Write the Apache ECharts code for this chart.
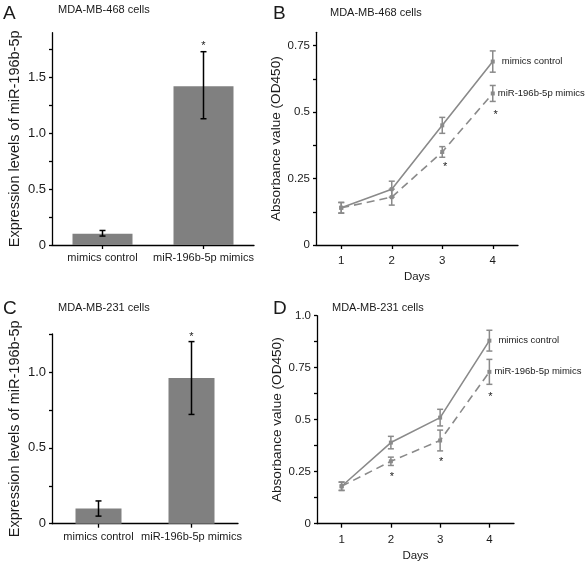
<!DOCTYPE html>
<html><head><meta charset="utf-8">
<script src="https://cdn.jsdelivr.net/npm/echarts@6/dist/echarts.min.js"></script>
<style>html,body{margin:0;padding:0;background:#fff}#c{width:586px;height:567px}</style>
</head><body><div id="c"></div>
<script>
// ---- data ----
const barCategories = ['mimics control', 'miR-196b-5p mimics'];
const barA = [0.10, 1.42];
const barALow = [0.08, 1.13];
const barAHigh = [0.13, 1.73];
const starA = [null, 1.81];
const barC = [0.10, 0.96];
const barCLow = [0.05, 0.72];
const barCHigh = [0.15, 1.20];
const starC = [null, 1.25];

const days = ['1', '2', '3', '4'];
const ctrlB = [0.14, 0.21, 0.45, 0.69];
const ctrlBLow = [0.12, 0.18, 0.42, 0.65];
const ctrlBHigh = [0.16, 0.24, 0.48, 0.73];
const mimB = [0.14, 0.18, 0.35, 0.57];
const mimBLow = [0.12, 0.15, 0.33, 0.54];
const mimBHigh = [0.16, 0.21, 0.37, 0.60];
const starB = [null, null, 0.305, 0.50];

const ctrlD = [0.18, 0.39, 0.51, 0.88];
const ctrlDLow = [0.16, 0.36, 0.47, 0.83];
const ctrlDHigh = [0.20, 0.42, 0.55, 0.93];
const mimD = [0.18, 0.30, 0.40, 0.73];
const mimDLow = [0.16, 0.28, 0.35, 0.67];
const mimDHigh = [0.20, 0.32, 0.45, 0.79];
const starD = [null, 0.2375, 0.311, 0.622];

const ticksA = [0, 0.25, 0.5, 0.75, 1, 1.25, 1.5, 1.75];
const labelsA = [0, 0.5, 1, 1.5];
const ticksB = [0, 0.125, 0.25, 0.375, 0.5, 0.625, 0.75];
const labelsB = [0, 0.25, 0.5, 0.75];
const ticksC = [0, 0.25, 0.5, 0.75, 1, 1.25];
const labelsC = [0, 0.5, 1];
const ticksD = [0, 0.125, 0.25, 0.375, 0.5, 0.625, 0.75, 0.875, 1];
const labelsD = [0, 0.25, 0.5, 0.75, 1];

const seriesNames = ['mimics control', 'miR-196b-5p mimics'];
const panelTitles = ['MDA-MB-468 cells', 'MDA-MB-468 cells', 'MDA-MB-231 cells', 'MDA-MB-231 cells'];
const panelLetters = ['A', 'B', 'C', 'D'];

// ---- helpers ----
const FONT = '"Liberation Sans", Arial, sans-serif';
const TXT = '#1a1a1a';
const GRAY = '#8a8a8a';
const BAR = '#808080';

function zip3(lo, hi) { return lo.map((v, i) => [i, v, hi[i]]); }
function starData(arr) { return arr.map((v, i) => v == null ? null : [i, v]).filter(Boolean); }

function errSeries(idx, lo, hi, color, cap) {
  return {
    type: 'custom', xAxisIndex: idx, yAxisIndex: idx, z: 5,
    data: zip3(lo, hi),
    renderItem: function (params, api) {
      const a = api.coord([api.value(0), api.value(1)]);
      const b = api.coord([api.value(0), api.value(2)]);
      const st = { stroke: color, lineWidth: 1.5 };
      return { type: 'group', children: [
        { type: 'line', shape: { x1: a[0], y1: a[1], x2: b[0], y2: b[1] }, style: st },
        { type: 'line', shape: { x1: a[0] - cap, y1: a[1], x2: a[0] + cap, y2: a[1] }, style: st },
        { type: 'line', shape: { x1: b[0] - cap, y1: b[1], x2: b[0] + cap, y2: b[1] }, style: st }
      ]};
    }
  };
}
function starSeries(idx, arr, dx) {
  return {
    type: 'custom', xAxisIndex: idx, yAxisIndex: idx, z: 6,
    data: starData(arr),
    renderItem: function (params, api) {
      const p = api.coord([api.value(0), api.value(1)]);
      return { type: 'text', x: p[0] + dx, y: p[1] + 3,
        style: { text: '*', fill: TXT, font: '11px ' + FONT, align: 'center', verticalAlign: 'middle' } };
    }
  };
}
function fmtVal(v) { return v === 0 ? '0' : (Number.isInteger(v) ? v.toFixed(1) : String(v)); }

function yAxis(idx, max, ticks, labels, name, nameSize, nameGap, labelSize) {
  return {
    gridIndex: idx, type: 'value', min: 0, max: max,
    name: name, nameLocation: 'middle', nameGap: nameGap, nameRotate: 90,
    nameTextStyle: { fontFamily: FONT, fontSize: nameSize, color: TXT },
    axisLine: { show: true, lineStyle: { color: '#000', width: 1.3 } },
    axisTick: { show: true, length: 3, inside: false, customValues: ticks, lineStyle: { color: '#000', width: 1.3 } },
    axisLabel: { customValues: labels, formatter: fmtVal, fontFamily: FONT, fontSize: labelSize, color: TXT, margin: 6 },
    splitLine: { show: false }
  };
}
function xAxis(idx, cats, labelSize, name, margin) {
  return {
    gridIndex: idx, type: 'category', data: cats, boundaryGap: true,
    name: name, nameLocation: 'middle', nameGap: 26,
    nameTextStyle: { fontFamily: FONT, fontSize: 11.5, color: TXT },
    axisLine: { show: true, lineStyle: { color: '#000', width: 1.3 } },
    axisTick: { show: true, alignWithLabel: true, length: 4, lineStyle: { color: '#000', width: 1.3 } },
    axisLabel: { fontFamily: FONT, fontSize: labelSize, color: TXT, margin: margin, interval: 0 },
    splitLine: { show: false }
  };
}
function lineSeries(idx, name, data, dashed) {
  return {
    type: 'line', name: name, xAxisIndex: idx, yAxisIndex: idx, data: data,
    symbol: 'rect', symbolSize: 4, z: 4,
    itemStyle: { color: GRAY },
    lineStyle: { color: GRAY, width: 1.6, type: dashed ? [8, 5] : 'solid' },
    endLabel: { show: true, formatter: name, distance: dashed ? 5 : 9, fontFamily: FONT, fontSize: 9.5, color: TXT },
    animation: false
  };
}

const titles = [];
const letterPos = [[3, 4], [273, 4], [3, 299], [273, 299]];
const titlePos = [[58, 4], [330, 7], [58, 302], [332, 302]];
for (let i = 0; i < 4; i++) {
  titles.push({ text: panelLetters[i], left: letterPos[i][0], top: letterPos[i][1], padding: 0,
    textStyle: { fontFamily: FONT, fontSize: 19, fontWeight: 'normal', color: TXT } });
  titles.push({ text: panelTitles[i], left: titlePos[i][0], top: titlePos[i][1], padding: 0,
    textStyle: { fontFamily: FONT, fontSize: 11, fontWeight: 'normal', color: TXT } });
}

const option = {
  backgroundColor: '#fff',
  animation: false,
  title: titles,
  grid: [
    { left: 52, top: 32.7, width: 202, height: 212.3 },
    { left: 316, top: 32.3, width: 202, height: 212.7 },
    { left: 52, top: 334, width: 186, height: 189.7 },
    { left: 317, top: 315.7, width: 197, height: 208 }
  ],
  xAxis: [
    xAxis(0, barCategories, 11, '', 7),
    xAxis(1, days, 11.5, 'Days', 10),
    xAxis(2, barCategories, 11, '', 8),
    xAxis(3, days, 11.5, 'Days', 10)
  ],
  yAxis: [
    yAxis(0, 1.9, ticksA, labelsA, 'Expression levels of miR-196b-5p', 14.5, 30, 13),
    yAxis(1, 0.8, ticksB, labelsB, 'Absorbance value (OD450)', 13.6, 26, 11.5),
    yAxis(2, 1.25, ticksC, labelsC, 'Expression levels of miR-196b-5p', 14.5, 30, 13),
    yAxis(3, 1.0, ticksD, labelsD, 'Absorbance value (OD450)', 13.6, 29, 11.5)
  ],
  series: [
    { type: 'bar', xAxisIndex: 0, yAxisIndex: 0, data: barA, barWidth: 60, itemStyle: { color: BAR } },
    errSeries(0, barALow, barAHigh, '#000', 3),
    starSeries(0, starA, 0),
    lineSeries(1, seriesNames[0], ctrlB, false),
    lineSeries(1, seriesNames[1], mimB, true),
    errSeries(1, ctrlBLow, ctrlBHigh, GRAY, 3),
    errSeries(1, mimBLow, mimBHigh, GRAY, 3),
    starSeries(1, starB, 3),
    { type: 'bar', xAxisIndex: 2, yAxisIndex: 2, data: barC, barWidth: 46, itemStyle: { color: BAR } },
    errSeries(2, barCLow, barCHigh, '#000', 3),
    starSeries(2, starC, 0),
    lineSeries(3, seriesNames[0], ctrlD, false),
    lineSeries(3, seriesNames[1], mimD, true),
    errSeries(3, ctrlDLow, ctrlDHigh, GRAY, 3),
    errSeries(3, mimDLow, mimDHigh, GRAY, 3),
    starSeries(3, starD, 1)
  ]
};
const chart = echarts.init(document.getElementById('c'), null, { renderer: 'canvas' });
chart.setOption(option);
</script>
</body></html>
